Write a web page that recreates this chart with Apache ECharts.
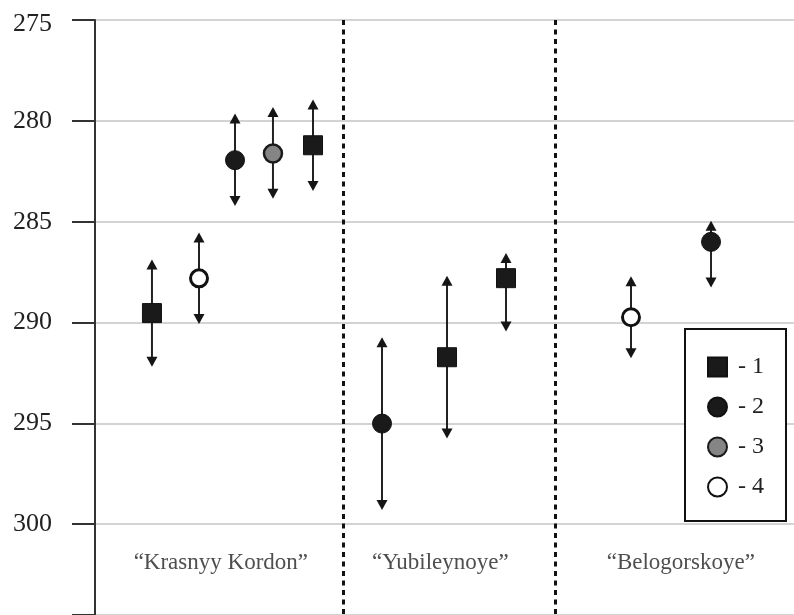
<!DOCTYPE html>
<html>
<head>
<meta charset="utf-8">
<script src="https://cdn.jsdelivr.net/npm/echarts@6/dist/echarts.min.js"></script>
<style>html,body{margin:0;padding:0;background:#fff}#c{width:794px;height:615px}</style>
</head>
<body>
<div id="c"></div>
<script>
// ---- data ----
const categories = ['\u201CKrasnyy Kordon\u201D', '\u201CYubileynoye\u201D', '\u201CBelogorskoye\u201D'];
const categoryPos = [18.0, 49.4, 83.8];      // horizontal position of group names (0-100 scale)
const groupBounds = [35.5, 65.8];            // separators between groups
const yTicks = [275, 280, 285, 290, 295, 300];

// series "1" (squares)
const s1Pos = [8.15, 31.19, 50.36, 58.80];
const s1Val = [289.53, 281.21, 291.72, 287.80];
const s1Lo  = [286.87, 278.94, 287.68, 286.55];
const s1Hi  = [292.19, 283.48, 295.75, 290.45];
// series "2" (black circles)
const s2Pos = [20.03, 41.06, 88.13];
const s2Val = [281.95, 295.01, 286.00];
const s2Lo  = [279.64, 290.73, 284.95];
const s2Hi  = [284.22, 299.29, 288.26];
// series "3" (grey circles)
const s3Pos = [25.46];
const s3Val = [281.62];
const s3Lo  = [279.31];
const s3Hi  = [283.86];
// series "4" (open circles)
const s4Pos = [14.88, 76.68];
const s4Val = [287.81, 289.74];
const s4Lo  = [285.54, 287.71];
const s4Hi  = [290.07, 291.77];

const labelRow = 301.93;

// ---- build ----
function pts(p, v) { return p.map((x, i) => [x, v[i]]); }
function errs(p, lo, hi) { return p.map((x, i) => [x, lo[i], hi[i]]); }
const allErr = [].concat(errs(s1Pos, s1Lo, s1Hi), errs(s2Pos, s2Lo, s2Hi),
                         errs(s3Pos, s3Lo, s3Hi), errs(s4Pos, s4Lo, s4Hi));

const ink = '#1a1a1a';
const txt = '#222';
const serif = '"Liberation Serif", "DejaVu Serif", serif';

const chart = echarts.init(document.getElementById('c'), null, {renderer: 'canvas'});
chart.setOption({
  animation: false,
  backgroundColor: '#fff',
  grid: {left: 95, right: 0, top: 20, bottom: -2, containLabel: false},
  xAxis: {
    type: 'value', min: 0, max: 100,
    axisLine: {show: false}, axisTick: {show: false},
    axisLabel: {show: false}, splitLine: {show: false}
  },
  yAxis: {
    type: 'value', inverse: true, min: 275, max: 304.5, interval: 5,
    axisLine: {show: true, lineStyle: {color: '#333', width: 2}},
    axisTick: {show: true, inside: false, length: 23, lineStyle: {color: '#333', width: 2}},
    axisLabel: {
      margin: 43, color: txt, fontFamily: serif, fontSize: 26,
      formatter: v => (yTicks.indexOf(v) < 0 ? '' : (v === yTicks[0] ? '{t|' + v + '}' : String(v))),
      rich: {t: {fontFamily: serif, fontSize: 26, color: txt, padding: [9, 0, 0, 0]}}
    },
    splitLine: {show: true, lineStyle: {color: '#c4c4c4', width: 1.5}}
  },
  legend: {
    orient: 'vertical', left: 685, top: 329,
    data: ['1', '2', '3', '4'],
    formatter: n => ' - ' + n,
    itemWidth: 19, itemHeight: 19, itemGap: 16,
    padding: [26, 22, 22, 22],
    backgroundColor: '#fff', borderColor: '#111', borderWidth: 2,
    textStyle: {fontFamily: serif, fontSize: 24, color: txt}
  },
  series: [
    {
      type: 'custom', name: 'err', z: 2, silent: true,
      data: allErr,
      renderItem: function (params, api) {
        const x = api.value(0);
        const a = api.coord([x, api.value(1)]);
        const b = api.coord([x, api.value(2)]);
        const top = Math.min(a[1], b[1]), bot = Math.max(a[1], b[1]);
        const px = a[0], h = 10, w = 5.5;
        return {
          type: 'group',
          children: [
            {type: 'line', shape: {x1: px, y1: top + h - 1, x2: px, y2: bot - h + 1},
             style: {stroke: '#222', lineWidth: 2}},
            {type: 'polygon', shape: {points: [[px, top], [px - w, top + h], [px + w, top + h]]},
             style: {fill: '#151515'}},
            {type: 'polygon', shape: {points: [[px, bot], [px - w, bot - h], [px + w, bot - h]]},
             style: {fill: '#151515'}}
          ]
        };
      },
      markLine: {
        silent: true, symbol: 'none', label: {show: false},
        lineStyle: {type: [5, 4.5], width: 3, color: '#111'},
        data: groupBounds.map(v => ({xAxis: v}))
      }
    },
    {
      type: 'scatter', name: '1', z: 5, symbol: 'rect', symbolSize: 19,
      itemStyle: {color: ink, borderColor: '#111', borderWidth: 1, opacity: 1},
      data: pts(s1Pos, s1Val)
    },
    {
      type: 'scatter', name: '2', z: 5, symbol: 'circle', symbolSize: 19,
      itemStyle: {color: ink, borderColor: '#111', borderWidth: 1, opacity: 1},
      data: pts(s2Pos, s2Val)
    },
    {
      type: 'scatter', name: '3', z: 5, symbol: 'circle', symbolSize: 18,
      itemStyle: {color: '#858585', borderColor: '#1a1a1a', borderWidth: 2.5, opacity: 1},
      data: pts(s3Pos, s3Val)
    },
    {
      type: 'scatter', name: '4', z: 5, symbol: 'circle', symbolSize: 17,
      itemStyle: {color: '#fff', borderColor: '#111', borderWidth: 3, opacity: 1},
      data: pts(s4Pos, s4Val)
    },
    {
      type: 'scatter', name: 'groups', z: 4, silent: true, symbolSize: 0,
      label: {show: true, position: 'inside', formatter: p => p.name,
              fontFamily: serif, fontSize: 23, color: txt},
      data: categories.map((c, i) => ({name: c, value: [categoryPos[i], labelRow]}))
    }
  ]
});
</script>
</body>
</html>
